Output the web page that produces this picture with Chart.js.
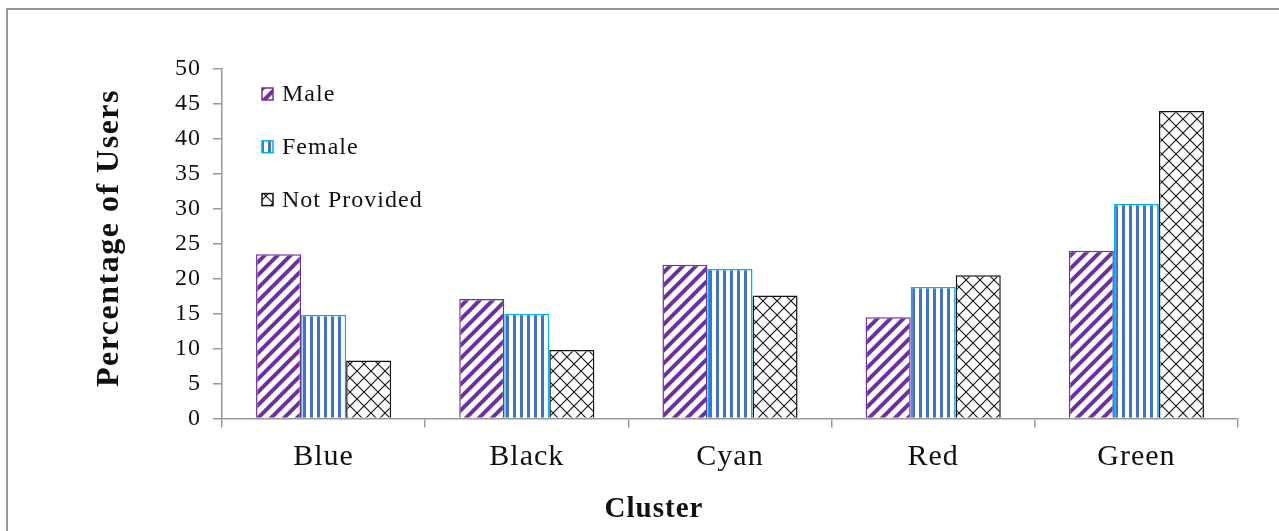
<!DOCTYPE html>
<html>
<head>
<meta charset="utf-8">
<script src="https://cdn.jsdelivr.net/npm/chart.js@4"></script>
<style>
  html, body { margin: 0; padding: 0; background: #fff; }
  #wrap { position: relative; width: 1279px; height: 531px; overflow: hidden; }
  #frame { position: absolute; left: 6px; top: 8px; width: 1400px; height: 600px;
           border-top: 2px solid #9a9a9a; border-left: 2px solid #9a9a9a; }
  canvas { position: absolute; left: 0; top: 0; }
</style>
</head>
<body>
<div id="wrap">
  <div id="frame"></div>
  <canvas id="chart" width="1279" height="531"></canvas>
</div>
<script>
// data
const clusters = ["Blue", "Black", "Cyan", "Red", "Green"];
const male = [23.5, 17.1, 22.0, 14.5, 24.0];
const female = [14.8, 15.0, 21.4, 18.8, 30.7];
const notProvided = [8.3, 9.8, 17.6, 20.5, 44.0];
const yTicks = [0, 5, 10, 15, 20, 25, 30, 35, 40, 45, 50];

const serif = "'Liberation Serif', 'Times New Roman', serif";
const ctx = document.getElementById('chart').getContext('2d');

// hatch fills
function makePattern(w, h, draw) {
  const c = document.createElement('canvas');
  c.width = w; c.height = h;
  const g = c.getContext('2d');
  g.fillStyle = '#fff';
  g.fillRect(0, 0, w, h);
  draw(g);
  return ctx.createPattern(c, 'repeat');
}

const diagPattern = makePattern(13, 13, function (g) {
  g.strokeStyle = '#7030a0';
  g.lineWidth = 4;
  g.beginPath();
  g.moveTo(-2, 15); g.lineTo(15, -2);
  g.moveTo(-8, 8); g.lineTo(8, -8);
  g.moveTo(5, 21); g.lineTo(21, 5);
  g.stroke();
});

const vertPattern = makePattern(7, 4, function (g) {
  g.fillStyle = '#4472c4';
  g.fillRect(2, 0, 3, 4);
});

const crossPattern = makePattern(14, 14, function (g) {
  g.strokeStyle = '#111';
  g.lineWidth = 1.1;
  g.beginPath();
  g.moveTo(0, 0); g.lineTo(14, 14);
  g.moveTo(14, 0); g.lineTo(0, 14);
  g.stroke();
});

// slightly loose letter spacing like the original rendering
const spacing = {
  id: 'spacing',
  beforeDraw(chart) { chart.ctx.letterSpacing = '1px'; }
};

// legend inside the plot + both axis titles
const insideLegend = {
  id: 'insideLegend',
  afterDraw(chart) {
    const c = chart.ctx;
    c.save();
    chart.data.datasets.forEach(function (ds, i) {
      const y = 94 + i * 52.8;
      c.fillStyle = ds.backgroundColor;
      c.fillRect(262, y - 6, 11, 12);
      c.strokeStyle = ds.borderColor;
      c.lineWidth = 1.5;
      c.strokeRect(262, y - 6, 11, 12);
      c.fillStyle = '#111';
      c.letterSpacing = '1px';
      c.font = '24px ' + serif;
      c.textBaseline = 'middle';
      c.fillText(ds.label, 282, y + 1);
    });
    c.textAlign = 'center';
    c.textBaseline = 'middle';
    c.font = 'bold 29px ' + serif;
    c.fillText('Cluster', 654, 510);
    c.translate(110, 238);
    c.rotate(-Math.PI / 2);
    c.letterSpacing = '1.5px';
    c.font = 'bold 32px ' + serif;
    c.fillText('Percentage of Users', 0, 0);
    c.restore();
  }
};

new Chart(ctx, {
  type: 'bar',
  data: {
    labels: clusters,
    datasets: [
      { label: 'Male', data: male, backgroundColor: diagPattern, borderColor: '#7030a0', borderWidth: 1.5 },
      { label: 'Female', data: female, backgroundColor: vertPattern, borderColor: '#00b0f0', borderWidth: 1.5 },
      { label: 'Not Provided', data: notProvided, backgroundColor: crossPattern, borderColor: '#111', borderWidth: 1.5 }
    ]
  },
  options: {
    responsive: false,
    animation: false,
    layout: { padding: { left: 90, top: 69, right: 41, bottom: 0 } },
    plugins: {
      legend: { display: false },
      tooltip: { enabled: false }
    },
    datasets: { bar: { categoryPercentage: 0.665, barPercentage: 1 } },
    scales: {
      x: {
        afterFit: function (s) { s.height = 112.5; },
        border: { color: '#999', width: 1.5 },
        grid: { drawOnChartArea: false, tickLength: 9, color: '#999', lineWidth: 1.5, offset: true },
        ticks: { color: '#111', padding: 12, font: { family: serif, size: 30 } },
        title: { display: false }
      },
      y: {
        min: 0, max: 50,
        afterFit: function (s) { s.width = 132; },
        afterBuildTicks: function (s) { s.ticks = yTicks.map(function (v) { return { value: v }; }); },
        border: { color: '#999', width: 1.5 },
        grid: { drawOnChartArea: false, tickLength: 9, color: '#999', lineWidth: 1.5 },
        ticks: { color: '#111', padding: 12, font: { family: serif, size: 24 } },
        title: { display: false }
      }
    }
  },
  plugins: [spacing, insideLegend]
});
</script>
</body>
</html>
